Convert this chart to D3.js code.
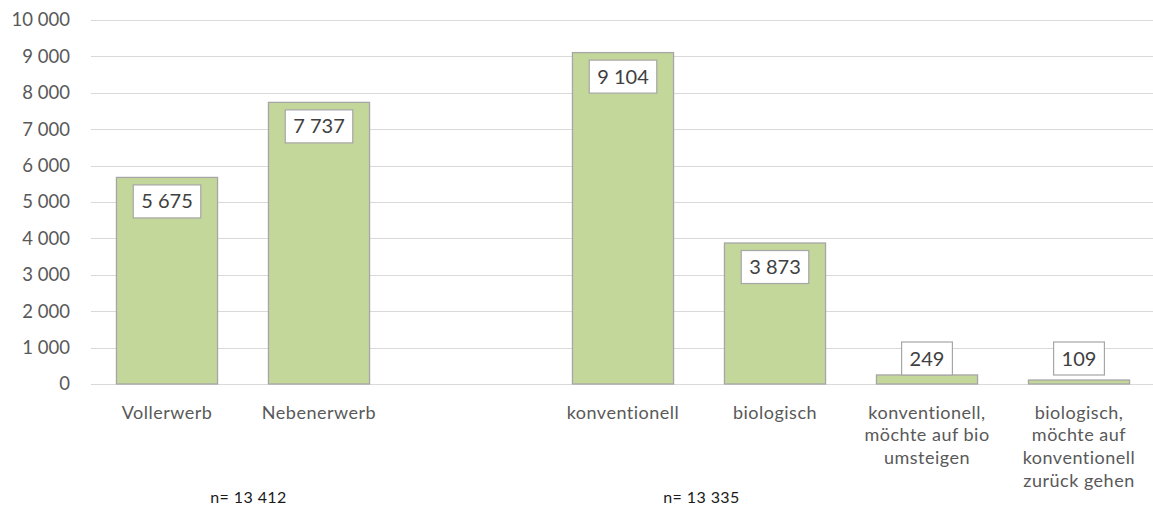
<!DOCTYPE html>
<html>
<head>
<meta charset="utf-8">
<script src="https://cdn.jsdelivr.net/npm/d3@7"></script>
<style>
  html, body { margin: 0; padding: 0; background: #fff; }
  svg { display: block; font-family: Lato, "Open Sans", sans-serif; }
</style>
</head>
<body>
<svg id="chart" width="1153" height="506"></svg>
<script>
// Betriebe nach Erwerbsart und Bewirtschaftung
const categories = [
  "Vollerwerb",
  "Nebenerwerb",
  "",
  "konventionell",
  "biologisch",
  "konventionell,\nmöchte auf bio\numsteigen",
  "biologisch,\nmöchte auf\nkonventionell\nzurück gehen"
];
const values = [5675, 7737, null, 9104, 3873, 249, 109];
const yTicks = [0, 1000, 2000, 3000, 4000, 5000, 6000, 7000, 8000, 9000, 10000];
const sampleNotes = ["n= 13 412", "n= 13 335"];

const svg = d3.select("#chart");

const locale = d3.formatLocale({ decimal: ",", thousands: "\u00a0", grouping: [3], currency: ["", " €"] });
const fmt = locale.format(",d");

const x = d3.scaleBand()
  .domain(d3.range(categories.length))
  .range([91, 1155])
  .paddingInner(0.335)
  .paddingOuter(0.1675);

const y = d3.scaleLinear().domain([0, 10000]).range([384, 20]);

// horizontal gridlines
svg.append("g")
  .selectAll("line")
  .data(yTicks)
  .join("line")
  .attr("x1", 91).attr("x2", 1153)
  .attr("y1", d => Math.round(y(d)) + 0.5)
  .attr("y2", d => Math.round(y(d)) + 0.5)
  .attr("stroke", "#d9d9d9")
  .attr("stroke-width", 1.2);

// value axis labels
const yAxis = d3.axisLeft(y).tickValues(yTicks).tickFormat(fmt).tickSize(0).tickPadding(0);
const yg = svg.append("g").attr("transform", "translate(70,0)").call(yAxis);
yg.select(".domain").remove();
yg.selectAll("text")
  .attr("fill", "#595959")
  .style("font-size", "18.5px")
  .style("font-family", "Lato, sans-serif");

// bars
const data = values.map((v, i) => ({ i, v })).filter(d => d.v != null);
svg.append("g")
  .selectAll("rect")
  .data(data)
  .join("rect")
  .attr("x", d => x(d.i))
  .attr("width", x.bandwidth())
  .attr("y", d => y(d.v))
  .attr("height", d => y(0) - y(d.v))
  .attr("fill", "#c4d79b")
  .attr("stroke", "#a6a6a6")
  .attr("stroke-width", 1.3);

// value labels in white boxes
const lbl = svg.append("g")
  .selectAll("g")
  .data(data)
  .join("g");

lbl.append("rect").attr("class", "box");
lbl.append("text")
  .text(d => fmt(d.v))
  .attr("fill", "#404040")
  .attr("text-anchor", "middle")
  .style("font-size", "20px");

const boxH = 33;
lbl.each(function(d) {
  const g = d3.select(this);
  const t = g.select("text");
  const w = t.node().getComputedTextLength() + 16;
  const cx = x(d.i) + x.bandwidth() / 2;
  const top = Math.min(y(d.v) + 7.5, y(0) - 42);
  g.select("rect")
    .attr("x", cx - w / 2)
    .attr("y", top)
    .attr("width", w)
    .attr("height", boxH)
    .attr("fill", "#fff")
    .attr("stroke", "#a6a6a6")
    .attr("stroke-width", 1.2);
  t.attr("x", cx).attr("y", top + boxH / 2 + 7);
});

// category labels
const xl = svg.append("g")
  .selectAll("text")
  .data(categories.map((c, i) => ({ c, i })))
  .join("text")
  .attr("text-anchor", "middle")
  .attr("fill", "#595959")
  .style("font-size", "18px")
  .style("letter-spacing", "0.5px")
  .attr("x", d => x(d.i) + x.bandwidth() / 2)
  .attr("y", 418.5);

xl.selectAll("tspan")
  .data(d => d.c.split("\n").map(s => ({ s, cx: x(d.i) + x.bandwidth() / 2 })))
  .join("tspan")
  .attr("x", d => d.cx)
  .attr("dy", (d, j) => j === 0 ? 0 : 22.8)
  .text(d => d.s);

// sample size notes
svg.append("g")
  .selectAll("text")
  .data(sampleNotes)
  .join("text")
  .attr("x", (d, i) => [248.5, 701.5][i])
  .attr("y", 503)
  .attr("text-anchor", "middle")
  .attr("fill", "#1a1a1a")
  .style("font-size", "16px")
  .style("letter-spacing", "0.4px")
  .text(d => d);
</script>
</body>
</html>
